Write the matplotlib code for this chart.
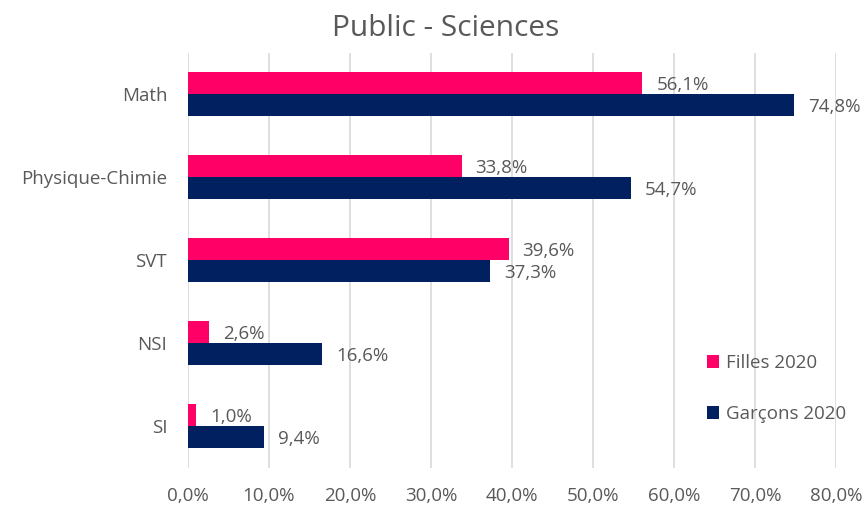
import numpy as np
import matplotlib.pyplot as plt
from matplotlib.ticker import FuncFormatter

plt.rcParams['font.family'] = ['Open Sans', 'DejaVu Sans']

categories = ['Math', 'Physique-Chimie', 'SVT', 'NSI', 'SI']
filles = [56.1, 33.8, 39.6, 2.6, 1.0]
garcons = [74.8, 54.7, 37.3, 16.6, 9.4]

pink = '#FF0066'
navy = '#002060'
txt = '#595959'

fig = plt.figure(figsize=(8.68, 5.08), dpi=100)
ax = fig.add_axes([188 / 868, 1 - 467.5 / 508, 648 / 868, 415 / 508])

y = np.arange(len(categories))
h = 0.26
b1 = ax.barh(y - h / 2, filles, height=h, color=pink, label='Filles 2020', zorder=3)
b2 = ax.barh(y + h / 2, garcons, height=h, color=navy, label='Garçons 2020', zorder=3)

def fmt(v):
    return f"{v:.1f}%".replace('.', ',')

for bars, vals in ((b1, filles), (b2, garcons)):
    for bar, v in zip(bars, vals):
        ax.annotate(fmt(v), (bar.get_width(), bar.get_y() + bar.get_height() / 2),
                    xytext=(10, -1.5), textcoords='offset points', ha='left', va='center',
                    fontsize=13.5, color=txt)

ax.set_xlim(0, 80)
ax.set_ylim(len(categories) - 0.5, -0.5)
ax.set_xticks(np.arange(0, 81, 10))
ax.xaxis.set_major_formatter(FuncFormatter(lambda v, p: fmt(v)))
ax.set_yticks(y)
ax.set_yticklabels(categories)
ax.tick_params(axis='both', length=0, labelsize=13.5, labelcolor=txt)
ax.tick_params(axis='x', pad=14)
ax.tick_params(axis='y', pad=15)
ax.grid(axis='x', color='#D9D9D9', linewidth=1.2, zorder=0)
for s in ax.spines.values():
    s.set_visible(False)

fig.suptitle('Public - Sciences', x=446 / 868, y=0.972, va='top', fontsize=21.5, color=txt)

ax.legend(loc='center left', bbox_to_anchor=(0.775, 0.19), frameon=False,
          fontsize=13.5, labelcolor=txt, handlelength=0.65, handleheight=0.65,
          labelspacing=1.75, handletextpad=0.35)

fig.savefig('out.png', dpi=100)
